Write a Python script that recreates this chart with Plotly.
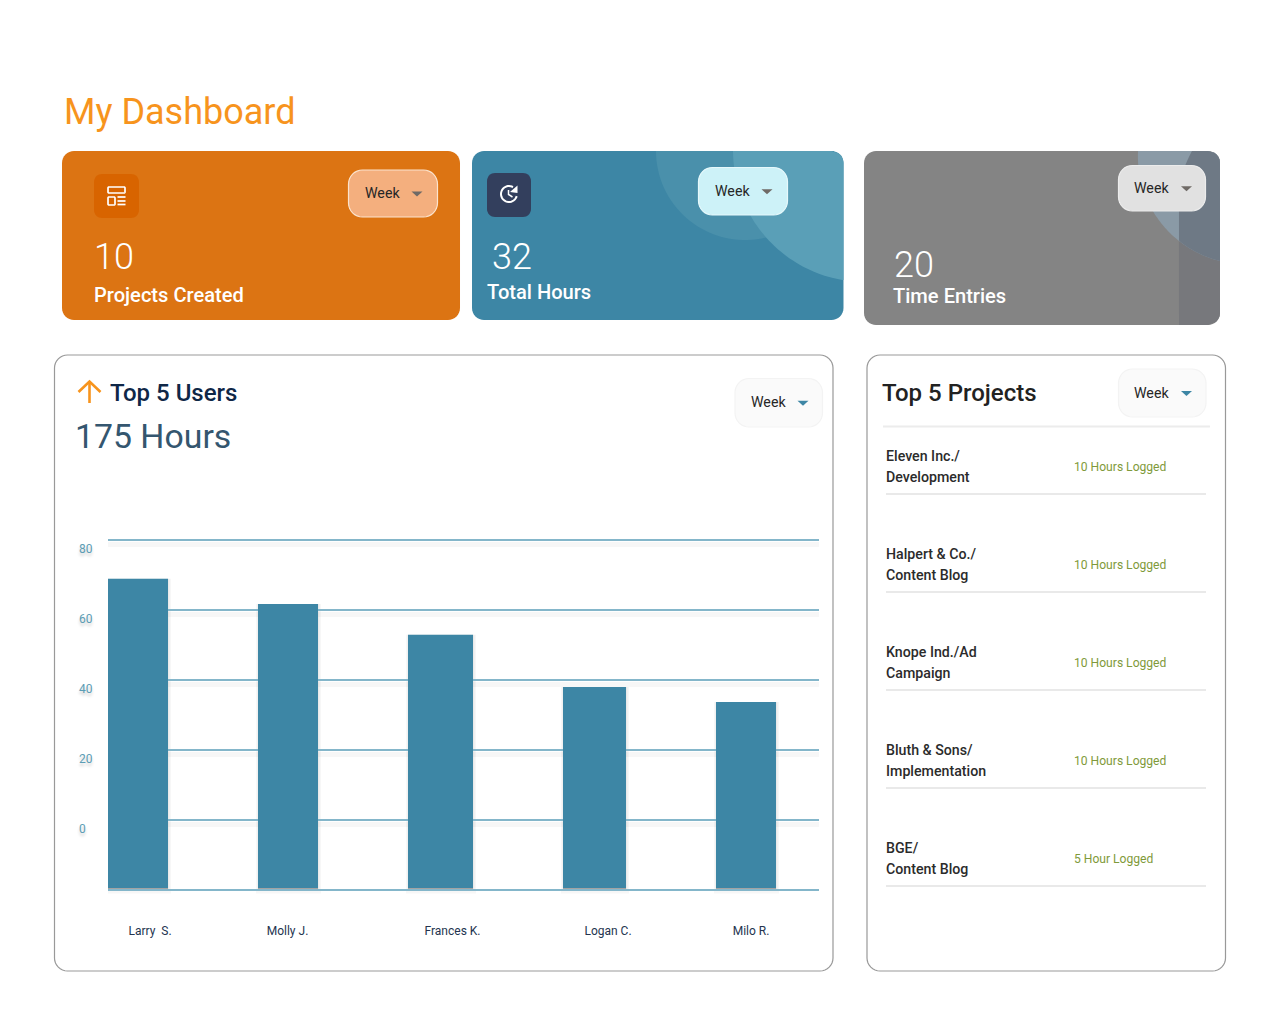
import numpy as np
import plotly.graph_objects as go

W, H = 1280, 1023
FONT = "Roboto"

# chart data
users = ["Larry  S.", "Molly J.", "Frances K.", "Logan C.", "Milo R."]
user_hours = [68.9, 61.7, 52.9, 38.0, 33.7]
y_ticks = [0, 20, 40, 60, 80]

# kpi cards
kpi_values = ["10", "32", "20"]
kpi_labels = ["Projects Created", "Total Hours", "Time Entries"]

# right hand list
project_names = ["Eleven Inc./", "Halpert & Co./", "Knope Ind./Ad", "Bluth & Sons/", "BGE/"]
project_areas = ["Development", "Content Blog", "Campaign", "Implementation", "Content Blog"]
project_logged = ["10 Hours Logged", "10 Hours Logged", "10 Hours Logged", "10 Hours Logged", "5 Hour Logged"]

# layout of the irregular bars, in chart pixels
bar_left = [108, 258, 408, 563, 716]
bar_right = [168, 318, 473, 626, 776]
label_x = [150, 287.5, 452.5, 608, 751]
bar_base = -19.4


def px(x):
    return x / W


def py(y):
    return 1 - y / H


def poly(points):
    return "M " + " L ".join(f"{px(x):.5f} {py(y):.5f}" for x, y in points) + " Z"


def round_rect(x0, y0, x1, y1, r):
    pts = []
    for cx, cy, start in [(x1 - r, y0 + r, -90), (x1 - r, y1 - r, 0), (x0 + r, y1 - r, 90), (x0 + r, y0 + r, 180)]:
        for a in np.radians(np.linspace(start, start + 90, 9)):
            pts.append((cx + r * np.cos(a), cy + r * np.sin(a)))
    return poly(pts)


shapes = []


def fill(path, color, line=None, width=1):
    shapes.append(dict(type="path", path=path, xref="paper", yref="paper", layer="below",
                       fillcolor=color, line=dict(color=line or "rgba(0,0,0,0)", width=width if line else 0)))


def stroke(points, color, width=1.8):
    path = "M " + " L ".join(f"{px(x):.5f} {py(y):.5f}" for x, y in points)
    shapes.append(dict(type="path", path=path, xref="paper", yref="paper", layer="below",
                       line=dict(color=color, width=width)))


def card_right(y, x1, y0, y1, r=12):
    # right edge of a card, including rounded corners
    if y < y0 + r:
        return x1 - r + np.sqrt(max(r * r - (y0 + r - y) ** 2, 0))
    if y > y1 - r:
        return x1 - r + np.sqrt(max(r * r - (y - y1 + r) ** 2, 0))
    return x1


def region(left_fn, ya, yb, x1, y0, y1):
    ys = np.linspace(ya, yb, 60)
    left = [(left_fn(y), y) for y in ys]
    right = [(card_right(y, x1, y0, y1), y) for y in ys[::-1]]
    return poly(left + right)


def circle_left(cx, cy, r):
    return lambda y: cx - np.sqrt(max(r * r - (y - cy) ** 2, 0))


text = []


def label(x, y, s, size, color, weight=400, anchor="left", shadow=None):
    f = dict(family=FONT, size=size, color=color, weight=weight)
    if shadow:
        f["shadow"] = shadow
    text.append(dict(x=px(x), y=py(y + 1), xref="paper", yref="paper", text=s, showarrow=False,
                     xanchor=anchor, yanchor="middle", font=f, borderpad=0, borderwidth=0))


def week_button(x0, y0, x1, y1, bg, edge, tx, tri_x, tri_color):
    fill(round_rect(x0, y0, x1, y1, 14), bg, edge, 1.2)
    ym = (y0 + y1) / 2
    label(tx, ym - 1.3, "Week", 14.2, "#262626")
    fill(poly([(tri_x - 5.5, ym - 2), (tri_x + 5.5, ym - 2), (tri_x, ym + 3)]), tri_color)


# card 1
fill(round_rect(62, 151, 460, 320, 12), "#dc7413")
fill(round_rect(94, 174, 139, 218, 8), "#d86400")
fill(round_rect(108, 187, 125, 193, 1), "rgba(0,0,0,0)", "white", 1.7)
fill(round_rect(108, 197, 115, 205, 1), "rgba(0,0,0,0)", "white", 1.7)
for ly in [197, 201, 204.5]:
    stroke([(117.5, ly), (125.5, ly)], "white", 1.7)
week_button(348.5, 170, 437.5, 217, "#f4af7e", "#fbe3cd", 365, 417, "#6f6a66")

# card 2
fill(round_rect(472, 151, 843.5, 320, 12), "#3d86a5")
c1 = [(745 + 89 * np.cos(a), 151 + 89 * np.sin(a)) for a in np.radians(np.linspace(180, 0, 60))]
fill(poly(c1), "#4a90ab")
fill(region(circle_left(865, 150, 132), 151, 280, 843.5, 151, 320), "#5a9fb7")
fill(round_rect(487, 173, 531, 217, 8), "#333f5d")
arc = [(509 + 8 * np.cos(a), 194 + 8 * np.sin(a)) for a in np.radians(np.linspace(-60, -345, 30))]
stroke(arc, "white", 2)
fill(poly([(517.5, 185.5), (517.5, 193), (510, 192)]), "white")
stroke([(508.5, 190), (508.5, 194.5), (512.5, 197)], "white", 1.5)
week_button(698.5, 167.5, 787.5, 215, "#cdf2f8", "#e6f8fb", 715, 767, "#6f6a66")

# card 3
fill(round_rect(864, 151, 1220, 325, 12), "#848484")


def strip_left(y):
    return 1179 if y > 190 else 1179 + 13 * ((190 - y) / 39) ** 1.6


circle3 = circle_left(1245.7, 156.3, 107.8)
fill(region(strip_left, 151, 325, 1220, 151, 325), "#77787c")
fill(region(circle3, 151, 261, 1220, 151, 325), "#8a9aa6")
fill(region(lambda y: max(strip_left(y), circle3(y)), 151, 261, 1220, 151, 325), "#6e7985")
week_button(1118.5, 165.5, 1205.5, 211, "#e1e1e1", "#ececec", 1134, 1186.5, "#6f6a66")

# lower panels
fill(round_rect(54.5, 355, 833, 971, 13), "white", "#999999", 1.2)
fill(round_rect(867, 355, 1225.5, 971, 13), "white", "#999999", 1.2)
stroke([(78.5, 392), (89.5, 381.5), (100.5, 392)], "#f7941d", 2.6)
stroke([(89.5, 382), (89.5, 403)], "#f7941d", 2.6)
week_button(735, 378.5, 822.5, 427, "#fafafa", "#f3f3f3", 751, 803, "#3d86a5")
week_button(1118.5, 369, 1206, 417, "#fafafa", "#f3f3f3", 1134, 1186.5, "#3d86a5")
stroke([(883, 426.5), (1210, 426.5)], "#ececec", 2)

# header and card text
label(64, 111, "My Dashboard", 36, "#f7941d")
for x, y, v in zip([94, 492, 894], [256, 256, 264], kpi_values):
    label(x, y, v, 36, "white", 300)
for x, y, s in zip([94, 487, 893], [294.5, 291.5, 295.5], kpi_labels):
    label(x, y, s, 20.1, "white", 500)
label(110, 392, "Top 5 Users", 24, "#0f2747", 500)
label(75, 435.5, "175 Hours", 33.8, "#34566f", 400)
label(882, 392, "Top 5 Projects", 24, "#222222", 500)

# project list
for i, (name, area, logged) in enumerate(zip(project_names, project_areas, project_logged)):
    y = 98 * i
    label(886, 455 + y, name, 14.2, "#2b2b2b", 500)
    label(886, 476 + y, area, 14.2, "#2b2b2b", 500)
    label(1074, 466 + y, logged, 12.1, "#7f9a3a")
    stroke([(886, 494 + y), (1206, 494 + y)], "#e9e9e9", 2)

# y labels sit a little under their gridlines in the original
for t in y_ticks:
    text.append(dict(x=px(77.5), y=t, xref="paper", yref="y", yshift=-9, text=str(t), showarrow=False,
                     xanchor="left", yanchor="middle", borderpad=0,
                     font=dict(family=FONT, size=12, color="#5b9db5", shadow="0px 3px 3px rgba(0,0,0,0.2)")))

# soft bar shadows
for left, right, v in zip(bar_left, bar_right, user_hours):
    for grow, alpha in [(3, 0.03), (1.5, 0.05)]:
        shapes.append(dict(type="rect", xref="x", yref="y", layer="below", x0=left - grow + 1, x1=right + grow,
                           y0=bar_base - grow * 0.6, y1=v, fillcolor=f"rgba(0,0,0,{alpha})", line=dict(width=0)))
    shapes.append(dict(type="rect", xref="x", yref="y", layer="below", x0=left, x1=right,
                       y0=bar_base - 0.4, y1=bar_base, fillcolor="rgba(0,0,0,0.3)", line=dict(width=0)))

grid_vals = [-20] + y_ticks
bar_x = [(a + b) / 2 for a, b in zip(bar_left, bar_right)]
bar_w = [b - a for a, b in zip(bar_left, bar_right)]

fig = go.Figure(go.Bar(
    x=bar_x, y=[v - bar_base for v in user_hours], base=bar_base, width=bar_w,
    marker=dict(color="#3d86a5", line=dict(width=0)), hoverinfo="skip"))

fig.update_layout(
    width=W, height=H, margin=dict(l=0, r=0, t=0, b=0), autosize=False, showlegend=False,
    paper_bgcolor="white", plot_bgcolor="rgba(0,0,0,0)",
    font=dict(family=FONT), shapes=shapes, annotations=text,
    xaxis=dict(domain=[px(108), px(819)], range=[108, 819], tickmode="array", tickvals=label_x, ticktext=users,
               ticks="outside", ticklen=26.5, tickcolor="rgba(0,0,0,0)", showgrid=False, zeroline=False, showline=False,
               tickfont=dict(family=FONT, size=12, color="#24344f")),
    # one unit of padding either side so the outer gridlines are still drawn
    yaxis=dict(domain=[py(893.5), py(536.5)], range=[-21, 81], tickmode="array", tickvals=grid_vals, showticklabels=False,
               ticks="", showgrid=True, gridcolor="#84b6ca", gridwidth=1.6, zeroline=False, showline=False,
               minor=dict(tickmode="array", tickvals=[g - 1.2 for g in grid_vals], showgrid=True,
                          gridcolor="rgba(0,0,0,0.03)", gridwidth=5, ticks="")),
)

fig.write_html("out.html", config=dict(displayModeBar=False),
               post_script="document.body.style.margin='0';document.body.style.overflow='hidden';")
